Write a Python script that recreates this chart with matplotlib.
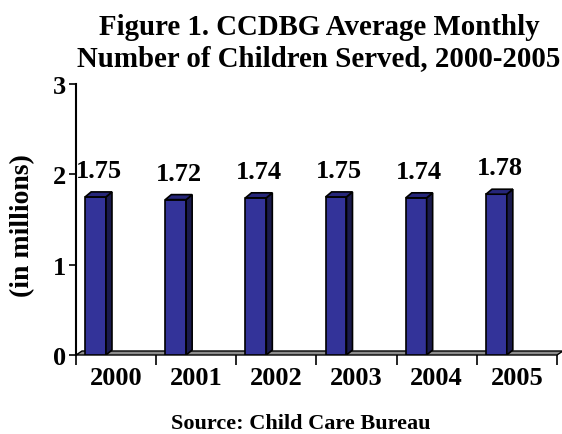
import numpy as np
import matplotlib.pyplot as plt
from matplotlib.patches import Polygon

# --- Data ---
years = ["2000", "2001", "2002", "2003", "2004", "2005"]
children = [1.75, 1.72, 1.74, 1.75, 1.74, 1.78]  # millions
labels = ["1.75", "1.72", "1.74", "1.75", "1.74", "1.78"]

plt.rcParams['font.family'] = ['Liberation Serif', 'DejaVu Serif']
plt.rcParams['font.weight'] = 'bold'

W, H = 562, 435
fig = plt.figure(figsize=(W / 100, H / 100), dpi=100)
ax = fig.add_axes([76 / W, (H - 356) / H, 481 / W, 271 / H])

x = np.arange(len(years))
ax.set_xlim(-0.5, len(years) - 0.5)
ax.set_ylim(0, 3)

# pixel -> data conversions for the fake 3D depth
px_x = (len(years)) / 481
px_y = 3 / 271
dx, dy = 6 * px_x, 5 * px_y

front = '#333399'
top = '#26267a'
side = '#1a1a4d'

# floor
fl = 4 * px_y
floor = Polygon([(-0.5, 0), (5.5, 0), (5.5 + dx, fl), (-0.5 + dx, fl)],
                closed=True, facecolor='#8c8c8c', edgecolor='black', lw=1,
                clip_on=False, zorder=1)
ax.add_patch(floor)

offset, width = -0.256, 0.26
bars = ax.bar(x + offset, children, width=width, color=front,
              edgecolor='black', linewidth=1.2, zorder=3)
for b, v, lab in zip(bars, children, labels):
    x0 = b.get_x()
    x1 = x0 + b.get_width()
    ax.add_patch(Polygon([(x1, 0), (x1 + dx, dy), (x1 + dx, v + dy), (x1, v)],
                         closed=True, facecolor=side, edgecolor='black',
                         lw=1.2, zorder=3))
    ax.add_patch(Polygon([(x0, v), (x1, v), (x1 + dx, v + dy), (x0 + dx, v + dy)],
                         closed=True, facecolor=top, edgecolor='black',
                         lw=1.2, zorder=3))
    ax.text((x0 + x1) / 2 + dx / 2, v + dy + 15 * px_y, lab, ha='center',
            va='baseline', fontsize=19, fontweight='bold')

# axes styling
for s in ['top', 'right', 'bottom']:
    ax.spines[s].set_visible(False)
ax.spines['left'].set_linewidth(1.5)
ax.set_yticks([0, 1, 2, 3])
ax.tick_params(axis='y', length=5, width=1.2, pad=2, labelsize=19)

ax.set_xticks(np.arange(-0.5, len(years), 1.0))
ax.set_xticklabels([])
ax.tick_params(axis='x', which='major', length=7, width=1.2, direction='out')
ax.set_xticks(x, minor=True)
ax.set_xticklabels(years, minor=True, fontsize=19, fontweight='bold')
ax.tick_params(axis='x', which='minor', length=0, pad=8)

fig.text(23 / W, 1 - 226 / H, "(in millions)", rotation=90, ha='center',
         va='center', fontsize=20, fontweight='bold')
fig.text(319 / W, 1 - 35 / H, "Figure 1. CCDBG Average Monthly",
         ha='center', va='baseline', fontsize=20.8, fontweight='bold')
fig.text(319 / W, 1 - 66 / H, "Number of Children Served, 2000-2005",
         ha='center', va='baseline', fontsize=20.8, fontweight='bold')
fig.text(301 / W, 1 - 429 / H, "Source: Child Care Bureau", ha='center',
         va='baseline', fontsize=16, fontweight='bold')

fig.savefig('out.png', dpi=100)
